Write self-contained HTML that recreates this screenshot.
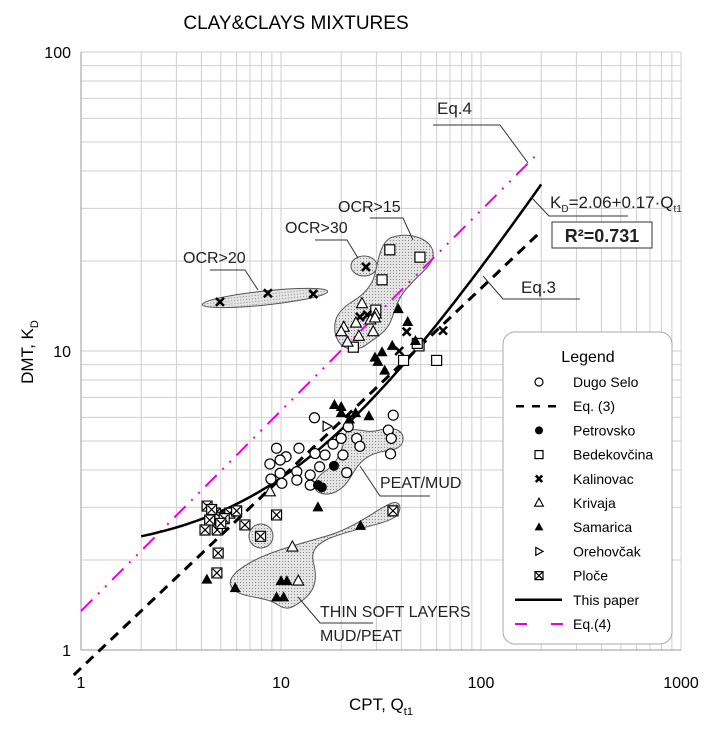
<!DOCTYPE html>
<html><head><meta charset="utf-8"><style>
html,body{margin:0;padding:0;background:#fff;}
svg{display:block;font-family:"Liberation Sans",sans-serif;}
</style></head><body>
<svg id="chart" width="711" height="732" viewBox="0 0 711 732">
<defs>
<pattern id="dots" width="3" height="3" patternUnits="userSpaceOnUse">
<rect width="3" height="3" fill="#e4e4e4"/><rect width="1" height="1" fill="#888"/>
</pattern>
</defs>
<text x="296" y="29" font-size="19" text-anchor="middle">CLAY&amp;CLAYS MIXTURES</text>
<g id="grid"></g>
<g id="ticks"></g>
<text x="381" y="710" font-size="17" text-anchor="middle">CPT, Q<tspan font-size="11" dy="5">t1</tspan></text>
<text transform="translate(33,352) rotate(-90)" font-size="17" text-anchor="middle">DMT, K<tspan font-size="11" dy="5">D</tspan></text>

<g stroke="#555" stroke-width="1" fill="url(#dots)">
<ellipse cx="265" cy="298" rx="63" ry="7" transform="rotate(-6 265 298)"/>
<ellipse cx="364" cy="266" rx="13" ry="10"/>
<path d="M390,238 C410,230 436,240 433,257 C430,268 420,273 410,285 C400,295 397,303 392,318 C388,330 383,333 363,347 C350,352 338,348 335,332 C333,318 340,310 350,303 C362,296 368,290 373,280 C378,268 378,245 390,238 Z"/>
<path d="M350,430 C360,428 367,434 380,430 C393,426 404,430 403,440 C402,450 390,450 380,452 C368,455 360,460 350,478 C343,490 330,498 318,492 C310,486 318,475 327,470 C336,463 340,455 343,445 C345,436 345,431 350,430 Z"/>
<path d="M392,503 C402,500 402,512 395,517 C385,524 360,527 330,538 C315,545 310,552 314,565 C317,578 316,590 303,600 C292,608 287,612 275,603 C262,596 240,598 232,588 C225,578 240,568 255,560 C275,550 300,544 330,535 C360,525 378,508 392,503 Z"/>
<circle cx="261" cy="536" r="12"/>
</g>

<g id="lines"></g>
<g id="points"></g>

<g font-size="16" fill="#222">
<text x="183" y="263">OCR&gt;20</text>
<polyline points="210,270 245,270 258,290" fill="none" stroke="#333"/>
<text x="285" y="233">OCR&gt;30</text>
<polyline points="315,240 347,240 358,258" fill="none" stroke="#333"/>
<text x="338" y="212">OCR&gt;15</text>
<polyline points="370,218 403,218 413,240" fill="none" stroke="#333"/>
<text x="380" y="488">PEAT/MUD</text>
<polyline points="360,466 380,496 430,496" fill="none" stroke="#333"/>
<text x="320" y="617">THIN SOFT LAYERS</text>
<polyline points="298,597 320,623 373,623" fill="none" stroke="#333"/>
<text x="320" y="641">MUD/PEAT</text>
<text x="437" y="114" font-size="17">Eq.4</text>
<polyline points="433,125 500,125 528,163" fill="none" stroke="#333"/>
<text x="550" y="208" font-size="17">K<tspan font-size="10" dy="4">D</tspan><tspan dy="-4">=2.06+0.17·Q</tspan><tspan font-size="10" dy="4">t1</tspan></text>
<polyline points="531,197 549,216 628,216" fill="none" stroke="#333"/>
<rect x="552" y="222" width="100" height="26" fill="#fff" stroke="#333"/>
<text x="602" y="242" font-size="18" font-weight="bold" text-anchor="middle">R²=0.731</text>
<text x="521" y="293" font-size="17">Eq.3</text>
<polyline points="483,276 503,299 580,299" fill="none" stroke="#333"/>
</g>

<g>
<rect x="503" y="332" width="169" height="312" rx="12" fill="#fff" stroke="#aaa"/>
<text x="588" y="362" font-size="16" text-anchor="middle">Legend</text>
<g id="legend-items"></g>
</g>
</svg>
<script>
const X0=81, PXD=200, Y1=650, PYD=299;
const xs=q=>X0+Math.log10(q)*PXD;
const ys=k=>Y1-Math.log10(k)*PYD;
const NS="http://www.w3.org/2000/svg";
function mk(tag,attrs,parent){const e=document.createElementNS(NS,tag);for(const k in attrs)e.setAttribute(k,attrs[k]);parent.appendChild(e);return e;}

const xTicks=[1,10,100,1000];
const yTicks=[1,10,100];
const xTickLabels=["1","10","100","1000"];
const yTickLabels=["1","10","100"];

// data (Q_t1, K_D)
const dugoQ=[14.7,9.5,12.3,10.6,9.9,8.8,14.8,16.6,20.4,18.2,20,23.9,34.4,36.4,35.6,35.3,24.8,21.7,15.6,12,9.9,8.9,10.1,14,12,21.3,14];
const dugoK=[5.98,4.73,4.73,4.43,4.32,4.19,4.54,4.49,4.49,4.88,5.1,5.1,5.44,6.1,5.1,4.53,4.8,5.58,4.1,3.95,3.9,3.73,3.61,3.85,3.7,3.92,3.56];
const petQ=[18.4,15.3,16];
const petK=[4.13,3.56,3.5];
const bedQ=[35,49.5,32,29.8,23,49,41,60,48];
const bedK=[21.8,20.6,17.3,13.7,10.3,10.4,9.3,9.3,10.6];
const kalQ=[4.95,8.6,14.5,26.6,24.8,27,42.5,64.6,39];
const kalK=[14.6,15.6,15.5,19.1,13,13.2,11.6,11.7,10];
const kriQ=[25.4,29.8,28,23.7,20.6,20,24.5,21.5,28.9,29.5,8.8,11.4,12.2];
const kriK=[14.4,13.3,12.7,12.4,12,11.6,11.2,10.7,11.6,12.9,3.38,2.21,1.7];
const samQ=[38.6,43,32,36,29.5,18.5,20,23.6,27.5,30.5,33,15.3,4.26,5.9,10,10.7,9.5,10.3,25,47,20,22];
const samK=[13.8,12.5,9.9,10.4,9.5,6.6,6.5,6.2,6.05,9.2,8.6,3.0,1.72,1.61,1.7,1.7,1.5,1.5,2.6,10.8,6.2,5.9];
const oreQ=[17];
const oreK=[5.6];
const ploQ=[4.27,4.7,4.4,4.95,5.55,4.17,4.8,6.6,9.5,7.9,4.85,4.78,36.3,6,5.2,4.5,5];
const ploK=[3.03,2.87,2.72,2.78,2.87,2.52,2.52,2.62,2.83,2.4,2.11,1.81,2.92,2.92,2.75,2.95,2.65];

const curveA=2.06, curveB=0.17, curveQmin=2, curveQmax=200;
const eq3C=0.87, eq3P=0.635, eq3Qmax=200;
const eq4C=1.35, eq4P=0.67, eq4Qmax=190;

const grid=document.getElementById('grid');
for(let d=0;d<3;d++)for(let m=1;m<=9;m++){const q=Math.pow(10,d)*m;const l=mk('line',{x1:xs(q),x2:xs(q),y1:ys(100),y2:ys(1),stroke:'#cfcfcf','stroke-width':1},grid);

}
{const l=mk('line',{x1:xs(1000),x2:xs(1000),y1:ys(100),y2:ys(1),stroke:'#cfcfcf'},grid);

}
for(let d=0;d<2;d++)for(let m=1;m<=9;m++){const k=Math.pow(10,d)*m;const l=mk('line',{x1:xs(1),x2:xs(1000),y1:ys(k),y2:ys(k),stroke:'#cfcfcf'},grid);

}
{const l=mk('line',{x1:xs(1),x2:xs(1000),y1:ys(100),y2:ys(100),stroke:'#cfcfcf'},grid);

}
{const a=mk('line',{x1:xs(1),x2:xs(1000),y1:ys(1),y2:ys(1),stroke:'#999'},grid);


const b=mk('line',{x1:xs(1),x2:xs(1),y1:ys(100),y2:ys(1),stroke:'#999'},grid);

}

const ticks=document.getElementById('ticks');
xTicks.forEach((q,i)=>{const t=mk('text',{x:xs(q),y:ys(1)+38,'font-size':16,'text-anchor':'middle'},ticks);t.textContent=xTickLabels[i];

});
yTicks.forEach((k,i)=>{const t=mk('text',{x:xs(1)-10,y:ys(k)+6,'font-size':16,'text-anchor':'end'},ticks);t.textContent=yTickLabels[i];

});

const lines=document.getElementById('lines');
function pathFn(f,q0,q1){let d='';for(let i=0;i<=80;i++){const q=q0*Math.pow(q1/q0,i/80);d+=(i?'L':'M')+xs(q).toFixed(1)+','+ys(f(q)).toFixed(1);}return d;}
{const p=mk('path',{d:pathFn(q=>eq4C*Math.pow(q,eq4P),1,eq4Qmax),fill:'none',stroke:'#e600e6','stroke-width':2,'stroke-dasharray':'16,8,2,8,2,8'},lines);


const p2=mk('path',{d:pathFn(q=>eq3C*Math.pow(q,eq3P),0.92,eq3Qmax),fill:'none',stroke:'#000','stroke-width':3,'stroke-dasharray':'10,7'},lines);


const p3=mk('path',{d:pathFn(q=>curveA+curveB*q,curveQmin,curveQmax),fill:'none',stroke:'#000','stroke-width':2.5},lines);

}

function marker(type,x,y,g,s){s=s||1;let e;
 if(type==='circle')e=mk('circle',{cx:x,cy:y,r:5*s,fill:'#fff',stroke:'#000','stroke-width':1.2},g);
 else if(type==='fcircle')e=mk('circle',{cx:x,cy:y,r:5*s,fill:'#000'},g);
 else if(type==='square')e=mk('rect',{x:x-5*s,y:y-5*s,width:10*s,height:10*s,fill:'#fff',stroke:'#000','stroke-width':1.2},g);
 else if(type==='cross')e=mk('path',{d:`M${x-4*s},${y-4*s}L${x+4*s},${y+4*s}M${x-4*s},${y+4*s}L${x+4*s},${y-4*s}`,stroke:'#000','stroke-width':2.6},g);
 else if(type==='tri')e=mk('path',{d:`M${x},${y-6*s}L${x+5.5*s},${y+4*s}L${x-5.5*s},${y+4*s}Z`,fill:'#fff',stroke:'#000','stroke-width':1.1},g);
 else if(type==='ftri')e=mk('path',{d:`M${x},${y-6*s}L${x+5.5*s},${y+4*s}L${x-5.5*s},${y+4*s}Z`,fill:'#000'},g);
 else if(type==='rtri')e=mk('path',{d:`M${x-4*s},${y-5*s}L${x+5*s},${y}L${x-4*s},${y+5*s}Z`,fill:'#fff',stroke:'#000','stroke-width':1.2},g);
 else if(type==='boxx')e=mk('path',{d:`M${x-5*s},${y-5*s}h${10*s}v${10*s}h${-10*s}Z M${x-4*s},${y-4*s}L${x+4*s},${y+4*s}M${x-4*s},${y+4*s}L${x+4*s},${y-4*s}`,fill:'#fff',stroke:'#000','stroke-width':1.2},g);
 return e;}

const pts=document.getElementById('points');
const series=[['dugo-selo','circle',dugoQ,dugoK],['petrovsko','fcircle',petQ,petK],['bedekovcina','square',bedQ,bedK],['kalinovac','cross',kalQ,kalK],['krivaja','tri',kriQ,kriK],['samarica','ftri',samQ,samK],['orehovcak','rtri',oreQ,oreK],['ploce','boxx',ploQ,ploK]];
series.forEach(([name,type,Q,K])=>{Q.forEach((q,i)=>{const e=marker(type,xs(q),ys(K[i]),pts);

});});

const legendItems=[['circle','Dugo Selo'],['dash','Eq. (3)'],['fcircle','Petrovsko'],['square','Bedekovčina'],['cross','Kalinovac'],['tri','Krivaja'],['ftri','Samarica'],['rtri','Orehovčak'],['boxx','Ploče'],['solid','This paper'],['magenta','Eq.(4)']];
const lg=document.getElementById('legend-items');
legendItems.forEach(([t,label],i)=>{const y=382+i*24.2;const g=mk('g',{},lg);


 if(t==='dash')mk('line',{x1:516,x2:563,y1:y,y2:y,stroke:'#000','stroke-width':2.5,'stroke-dasharray':'8,8'},g);
 else if(t==='solid')mk('line',{x1:515,x2:562,y1:y,y2:y,stroke:'#000','stroke-width':2.5},g);
 else if(t==='magenta')mk('line',{x1:515,x2:563,y1:y,y2:y,stroke:'#e600e6','stroke-width':2,'stroke-dasharray':'12,24'},g);
 else marker(t,539,y,g,0.8);
 const tx=mk('text',{x:573,y:y+5,'font-size':14},g);tx.textContent=label;});
</script>
</body></html>
